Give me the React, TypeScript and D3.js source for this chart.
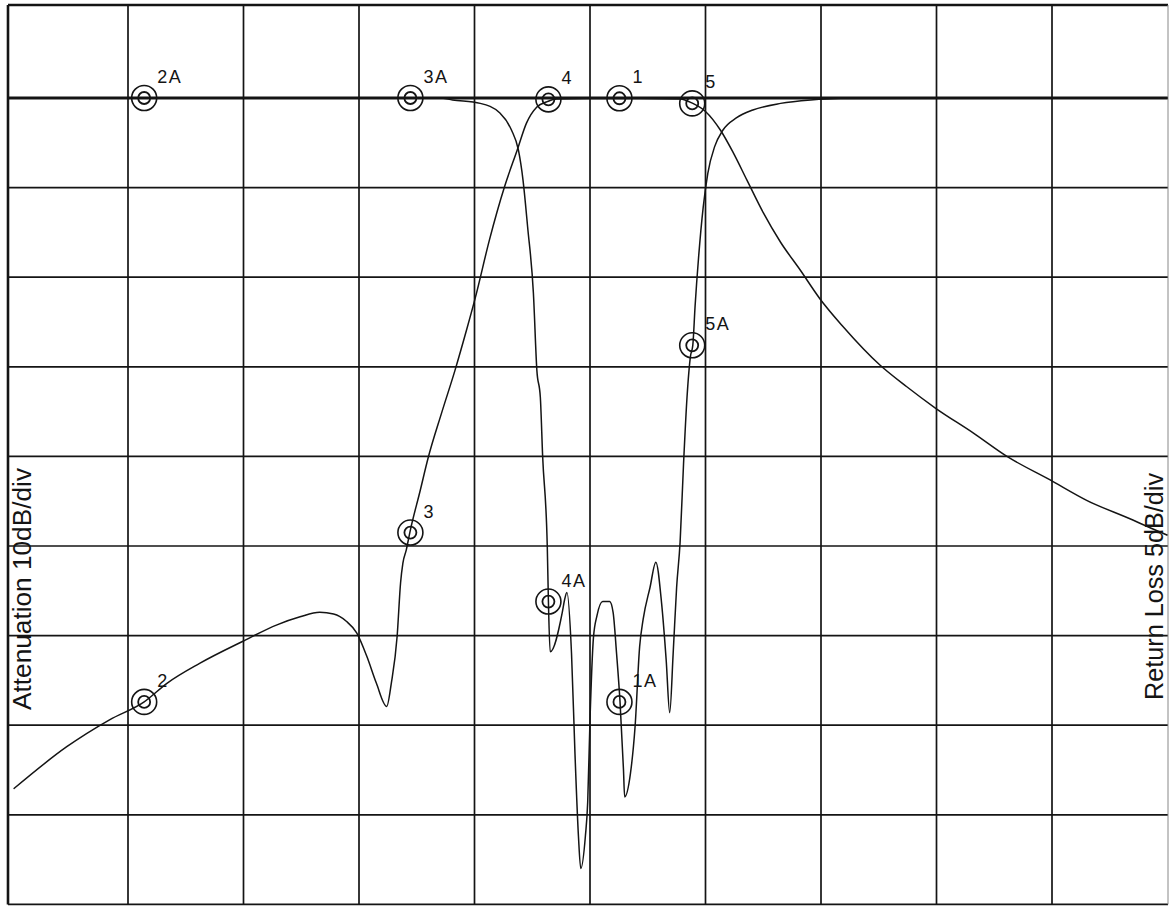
import React from "react";
import * as d3 from "d3";

// frequency axis in graticule divisions (0..10), levels in dB
const s21Freq: number[] = [
  0.01, 0.47, 0.84, 1.14, 1.34, 1.62, 2.0, 2.29, 2.49, 2.66, 2.78, 2.89, 2.98, 3.07, 3.15, 3.24, 3.28,
  3.33, 3.36, 3.38, 3.41, 3.44, 3.53, 3.6, 3.714, 3.831, 3.931, 4.009, 4.13, 4.26, 4.37, 4.45, 4.54, 4.63,
  4.71, 5.0, 5.43, 5.78, 5.89, 6.0, 6.13, 6.24, 6.36, 6.5, 6.65, 6.82, 6.99, 7.19, 7.51, 7.74, 7.99,
  8.32, 8.61, 8.98, 9.3, 9.7, 9.82, 10.0,
];
const s21Db: number[] = [
  -77.1, -72.4, -69.4, -67.4, -65.3, -63.1, -60.6, -58.8, -57.9, -57.4, -57.6, -58.4, -59.7, -62.4, -65.3, -67.9, -65.3,
  -60.1, -54.1, -51.9, -50.4, -48.5, -43.8, -40.1, -35.2, -30.4, -25.9, -22.2, -15.8, -9.9, -5.8, -2.8, -1.0, -0.4,
  -0.1, -0.05, -0.05, -0.1, -0.6, -1.5, -3.6, -6.1, -9.2, -12.8, -16.1, -19.2, -22.4, -25.5, -29.8, -32.2, -34.6,
  -37.4, -40.0, -42.6, -44.9, -47.1, -47.8, -48.8,
];

const s11Freq: number[] = [
  0.0, 3.7, 3.81, 4.05, 4.22, 4.32, 4.38, 4.42, 4.46, 4.51, 4.54, 4.57, 4.59, 4.63, 4.64, 4.655, 4.76,
  4.78, 4.8, 4.84, 4.87, 4.9, 4.92, 4.96, 4.98, 5.0, 5.03, 5.06, 5.11, 5.17, 5.2, 5.23, 5.26, 5.29,
  5.3, 5.35, 5.39, 5.43, 5.46, 5.52, 5.57, 5.62, 5.66, 5.69, 5.72, 5.75, 5.78, 5.81, 5.84, 5.87, 5.89,
  5.91, 5.94, 5.98, 6.02, 6.08, 6.15, 6.27, 6.41, 6.65, 6.91, 7.17, 10.0,
];
const s11Db: number[] = [
  0, 0, -0.11, -0.3, -0.84, -1.79, -2.9, -4.58, -7.2, -10.9, -15.2, -16.7, -20.0, -25.0, -28.1, -30.9, -28.7,
  -28.0, -27.6, -31.0, -36.6, -41.2, -43.0, -41.2, -39.3, -34.7, -30.1, -28.9, -28.1, -28.1, -28.7, -31.0, -33.7, -37.5,
  -39.0, -37.7, -35.1, -30.6, -29.1, -27.3, -25.9, -28.2, -31.4, -34.3, -31.0, -27.3, -24.8, -20.4, -16.7, -14.4, -13.8,
  -11.6, -8.9, -6.1, -4.2, -2.7, -1.8, -1.1, -0.67, -0.3, -0.11, -0.03, 0,
];

// markers: each frequency carries one marker on each trace
const markerFreq: number[] = [1.14, 3.445, 4.64, 5.255, 5.885];
const markerS21Label: string[] = ["2", "3", "4", "1", "5"];
const markerS21Db: number[] = [-67.4, -48.5, -0.15, -0.03, -0.6];
const markerS11Label: string[] = ["2A", "3A", "4A", "1A", "5A"];
const markerS11Db: number[] = [0, 0, -28.1, -33.7, -13.8];

const freqGrid: number[] = [1, 2, 3, 4, 5, 6, 7, 8, 9];
const attGrid: number[] = [0, -10, -20, -30, -40, -50, -60, -70, -80, -90];

const W = 1170;
const H = 907;
const INK = "#141414";
const FONT = "'Liberation Sans', Arial, sans-serif";

function Marker(props: {cx: number; cy: number; label: string}) {
  return (
    <g>
      <circle cx={props.cx} cy={props.cy} r={12.5} fill="none" stroke={INK} strokeWidth={1.6} />
      <circle cx={props.cx} cy={props.cy} r={6} fill="none" stroke={INK} strokeWidth={1.8} />
      <text x={props.cx + 13} y={props.cy - 15} fontSize={18} letterSpacing={1.5} fill={INK} fontFamily={FONT}>
        {props.label}
      </text>
    </g>
  );
}

export default function App(): React.ReactElement {
  const x = d3.scaleLinear().domain([0, 10]).range([12.5, 1167.5]);
  const yAtt = d3.scaleLinear().domain([10, -90]).range([8.4, 904.4]);
  const yRl = d3.scaleLinear().domain([5, -45]).range([8.4, 904.4]);

  const s21Line = d3.line<number>()
    .x((d, i) => x(s21Freq[i]))
    .y((d) => yAtt(d))
    .curve(d3.curveMonotoneX);
  const s11Line = d3.line<number>()
    .x((d, i) => x(s11Freq[i]))
    .y((d) => yRl(d))
    .curve(d3.curveMonotoneX);

  const left = 8;
  const right = 1168;
  const top = 5;
  const bottom = yAtt(-90);

  return (
    <div style={{position: "absolute", left: 0, top: 0}}>
      <svg width={W} height={H} style={{display: "block", background: "#fff"}}>
        <rect x={0} y={0} width={W} height={H} fill="#fff" />
        {/* graticule */}
        {freqGrid.map((f) => (
          <line key={"v" + f} x1={x(f)} x2={x(f)} y1={top} y2={bottom} stroke={INK} strokeWidth={1.7} />
        ))}
        {attGrid.map((a) => (
          <line key={"h" + a} x1={left} x2={right} y1={yAtt(a)} y2={yAtt(a)} stroke={INK}
                strokeWidth={a === 0 ? 2.8 : 1.7} />
        ))}
        <line x1={left} x2={right} y1={top} y2={top} stroke={INK} strokeWidth={2.6} />
        <line x1={left} x2={left} y1={top} y2={bottom} stroke={INK} strokeWidth={2.6} />
        <line x1={right} x2={right} y1={top} y2={bottom} stroke="#888" strokeWidth={1} />

        {/* traces */}
        <path d={s21Line(s21Db) ?? ""} fill="none" stroke={INK} strokeWidth={1.5} />
        <path d={s11Line(s11Db) ?? ""} fill="none" stroke={INK} strokeWidth={1.5} />

        {markerFreq.map((f, i) => (
          <Marker key={"m21" + i} cx={x(f)} cy={yAtt(markerS21Db[i])} label={markerS21Label[i]} />
        ))}
        {markerFreq.map((f, i) => (
          <Marker key={"m11" + i} cx={x(f)} cy={yRl(markerS11Db[i])} label={markerS11Label[i]} />
        ))}

        {/* axis captions */}
        <text transform="translate(31,710) rotate(-90)" fontSize={26} fontFamily={FONT} fill={INK}
              textLength={242} lengthAdjust="spacingAndGlyphs">
          Attenuation 10dB/div
        </text>
        <text transform="translate(1163,700) rotate(-90)" fontSize={26} fontFamily={FONT} fill={INK}
              textLength={227} lengthAdjust="spacingAndGlyphs">
          Return Loss 5dB/div
        </text>
      </svg>
    </div>
  );
}
